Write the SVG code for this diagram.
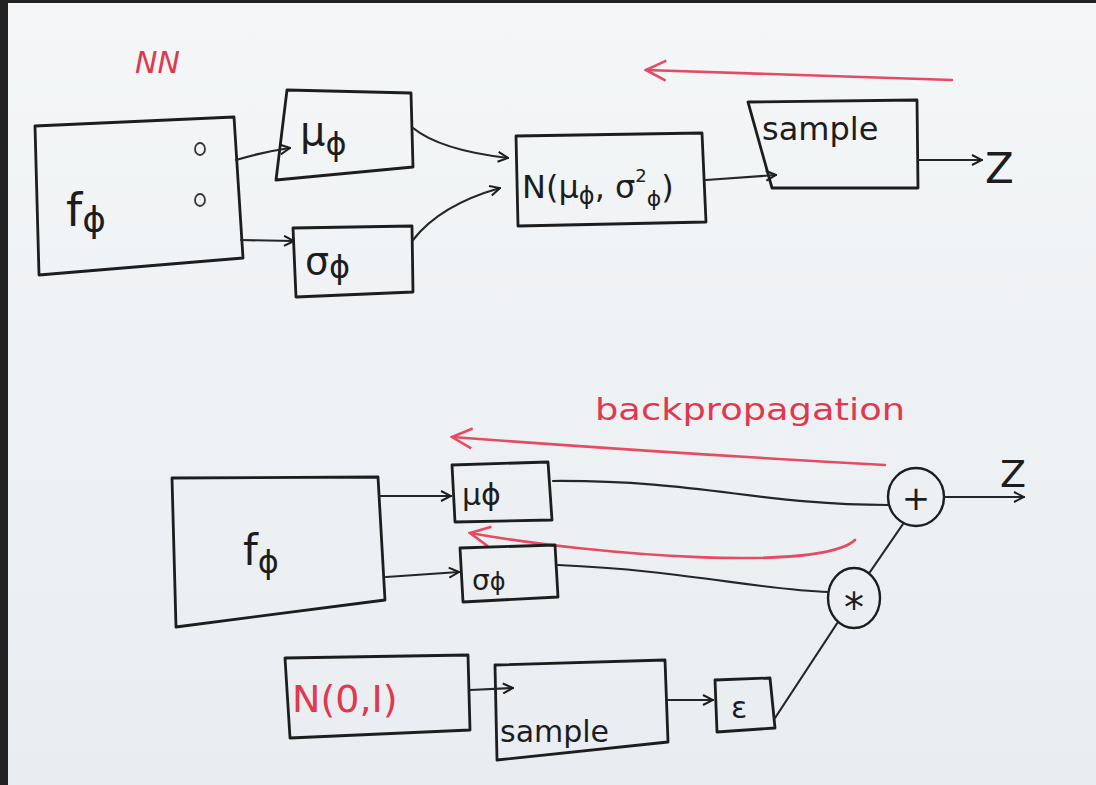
<svg xmlns="http://www.w3.org/2000/svg" width="1096" height="785" viewBox="0 0 1096 785">
  <defs>
    <linearGradient id="paper" x1="0" y1="0" x2="0" y2="1">
      <stop offset="0" stop-color="#f4f6f7"/>
      <stop offset="1" stop-color="#e9edf1"/>
    </linearGradient>
    <marker id="ah" viewBox="0 0 12 12" refX="11" refY="6" markerWidth="12" markerHeight="12" markerUnits="userSpaceOnUse" orient="auto">
      <path d="M1,1 L11,6 L1,11" fill="none" stroke="#1d1d1d" stroke-width="2"/>
    </marker>
    <marker id="ahr" viewBox="0 0 24 24" refX="22" refY="12" markerWidth="24" markerHeight="24" markerUnits="userSpaceOnUse" orient="auto">
      <path d="M2,2 L22,12 L2,22" fill="none" stroke="#e64b62" stroke-width="2.6"/>
    </marker>
    <style>
      .box{fill:none;stroke:#1d1d1d;stroke-width:2.8;stroke-linejoin:round}
      .ln{fill:none;stroke:#262626;stroke-width:2.2;stroke-linecap:round}
      .rl{fill:none;stroke:#e64b62;stroke-width:2.6;stroke-linecap:round}
      .t{font-family:"DejaVu Sans",sans-serif;fill:#1d1d1d}
      .r{fill:#e0394f}
    </style>
  </defs>
  <rect x="0" y="0" width="1096" height="785" fill="url(#paper)"/>
  <rect x="0" y="0" width="8" height="785" fill="#222"/>
  <rect x="0" y="0" width="1096" height="3" fill="#222"/>

  <!-- top section -->
  <text class="t r" x="135" y="73" font-size="30" font-style="italic">NN</text>
  <g id="top-backprop-arrow">
    <path class="rl" d="M952,80 L646,70" marker-end="url(#ahr)"/>
  </g>

  <g id="top-f">
    <path class="box" d="M35,126 L234,117 L243,258 L39,275 Z"/>
    <text class="t" x="66" y="226" font-size="46">f<tspan font-size="36" dy="6">ϕ</tspan></text>
    <ellipse cx="200" cy="149" rx="5" ry="6" fill="none" stroke="#333" stroke-width="1.8"/>
    <ellipse cx="200" cy="200" rx="5" ry="6" fill="none" stroke="#333" stroke-width="1.8"/>
  </g>
  <g id="top-mu">
    <path class="box" d="M287,90 L411,93 L413,167 L276,180 Z"/>
    <text class="t" x="300" y="145" font-size="40">μ<tspan font-size="32" dy="10">ϕ</tspan></text>
  </g>
  <g id="top-sigma">
    <path class="box" d="M293,228 L412,226 L413,292 L296,297 Z"/>
    <text class="t" x="305" y="274" font-size="38">σ<tspan font-size="32" dy="4">ϕ</tspan></text>
  </g>
  <g id="top-normal">
    <path class="box" d="M516,136 L702,133 L706,222 L518,226 Z"/>
    <text class="t" x="522" y="198" font-size="32">N(μ<tspan font-size="24" dy="6">ϕ</tspan><tspan dy="-6">, σ</tspan><tspan font-size="18" dy="-16">2</tspan><tspan font-size="22" dy="24">ϕ</tspan><tspan dy="-8">)</tspan></text>
  </g>
  <g id="top-sample">
    <path class="box" d="M748,102 L917,100 L918,188 L772,188 Z"/>
    <text class="t" x="762" y="140" font-size="32">sample</text>
  </g>
  <text class="t" x="985" y="183" font-size="42">Z</text>

  <g id="top-connectors">
    <path class="ln" d="M236,160 Q262,152 290,148" marker-end="url(#ah)"/>
    <path class="ln" d="M241,240 L294,241" marker-end="url(#ah)"/>
    <path class="ln" d="M413,128 Q440,150 508,158" marker-end="url(#ah)"/>
    <path class="ln" d="M413,240 Q440,205 500,188" marker-end="url(#ah)"/>
    <path class="ln" d="M706,180 L776,175" marker-end="url(#ah)"/>
    <path class="ln" d="M918,160 L982,160" marker-end="url(#ah)"/>
  </g>

  <!-- bottom section -->
  <text class="t r" x="595" y="420" font-size="30" textLength="310" lengthAdjust="spacingAndGlyphs">backpropagation</text>
  <g id="bottom-backprop-arrows">
    <path class="rl" d="M885,465 C700,455 560,445 452,437" marker-end="url(#ahr)"/>
    <path class="rl" d="M855,540 C820,572 600,556 470,533" marker-end="url(#ahr)"/>
  </g>

  <g id="bottom-f">
    <path class="box" d="M172,478 L378,477 L385,600 L176,627 Z"/>
    <text class="t" x="243" y="565" font-size="42">f<tspan font-size="32" dy="8">ϕ</tspan></text>
  </g>
  <g id="bottom-mu">
    <path class="box" d="M452,465 L548,462 L552,520 L455,522 Z"/>
    <text class="t" x="462" y="505" font-size="30">μϕ</text>
  </g>
  <g id="bottom-sigma">
    <path class="box" d="M460,548 L555,545 L558,597 L463,602 Z"/>
    <text class="t" x="472" y="590" font-size="28">σ<tspan font-size="24">ϕ</tspan></text>
  </g>
  <g id="plus">
    <ellipse cx="916" cy="497" rx="28" ry="29" fill="none" stroke="#1d1d1d" stroke-width="2.4"/>
    <text class="t" x="916" y="510" font-size="34" text-anchor="middle">+</text>
  </g>
  <g id="times">
    <ellipse cx="854" cy="598" rx="26" ry="30" fill="none" stroke="#1d1d1d" stroke-width="2.4"/>
    <text class="t" x="854" y="622" font-size="40" text-anchor="middle">*</text>
  </g>
  <g id="bottom-normal">
    <path class="box" d="M285,658 L468,655 L470,730 L290,738 Z"/>
    <text class="t r" x="292" y="712" font-size="38">N(0,I)</text>
  </g>
  <g id="bottom-sample">
    <path class="box" d="M495,665 L665,660 L668,742 L497,760 Z"/>
    <text class="t" x="500" y="742" font-size="30">sample</text>
  </g>
  <g id="epsilon">
    <path class="box" d="M715,680 L770,678 L775,728 L717,732 Z"/>
    <text class="t" x="731" y="718" font-size="30">ε</text>
  </g>
  <text class="t" x="1000" y="487" font-size="38">Z</text>

  <g id="bottom-connectors">
    <path class="ln" d="M380,496 L451,496" marker-end="url(#ah)"/>
    <path class="ln" d="M386,577 L459,572" marker-end="url(#ah)"/>
    <path class="ln" d="M470,690 L513,688" marker-end="url(#ah)"/>
    <path class="ln" d="M668,700 L713,700" marker-end="url(#ah)"/>
    <path class="ln" d="M553,481 C700,480 760,505 888,505"/>
    <path class="ln" d="M558,565 C680,570 760,590 828,592"/>
    <path class="ln" d="M903,524 L870,572"/>
    <path class="ln" d="M775,718 L838,622"/>
    <path class="ln" d="M944,497 L1024,497" marker-end="url(#ah)"/>
  </g>
</svg>
